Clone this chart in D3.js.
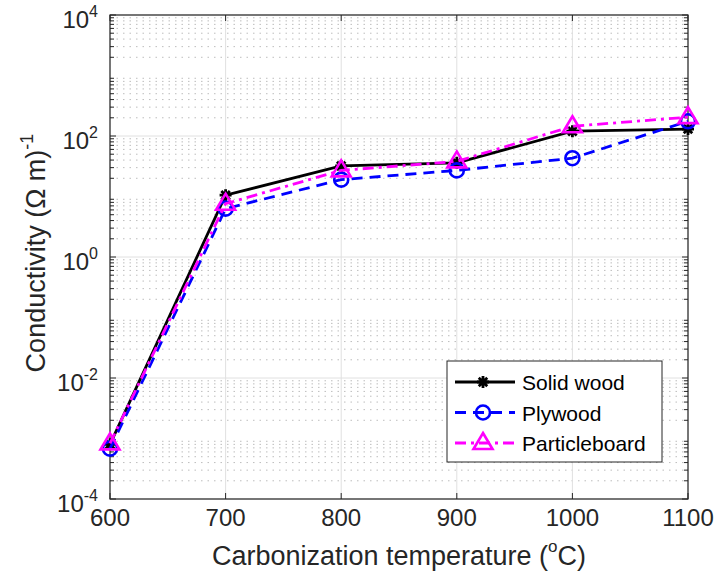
<!DOCTYPE html>
<html>
<head>
<meta charset="utf-8">
<script src="https://cdn.jsdelivr.net/npm/d3@7"></script>
<style>
  html, body { margin: 0; padding: 0; background: #fff; }
  svg { display: block; font-family: "Liberation Sans", Arial, sans-serif; }
</style>
</head>
<body>
<svg id="chart" width="718" height="580"></svg>
<script>
// Carbonization temperature (°C)
const temperatures = [600, 700, 800, 900, 1000, 1100];
// Conductivity (Ω m)^-1 per material
const solidWood     = [8.0e-4, 10.5, 32, 36, 120, 130];
const plywood       = [6.8e-4, 6.3, 19, 27, 43, 175];
const particleboard = [8.3e-4, 7.6, 27, 38, 145, 205];
const xTicks = [600, 700, 800, 900, 1000, 1100];
const yTickExponents = [-4, -2, 0, 2, 4];

const seriesList = [
  { name: "Solid wood",    values: solidWood,     color: "#000000", dash: null,         marker: "star" },
  { name: "Plywood",       values: plywood,       color: "#0000ff", dash: "11,7",       marker: "circle" },
  { name: "Particleboard", values: particleboard, color: "#ff00ff", dash: "11,5,3,5",   marker: "triangle" }
];

const svg = d3.select("#chart");
const m = { left: 110, right: 30, top: 15, bottom: 81 };
const W = 718, H = 580;
const x = d3.scaleLinear().domain([600, 1100]).range([m.left, W - m.right]);
const y = d3.scaleLog().domain([1e-4, 1e4]).range([H - m.bottom, m.top]);

const grid = svg.append("g");
// minor horizontal grid (dotted)
const minorVals = [];
for (let e = -4; e < 4; e++) for (let k = 2; k <= 9; k++) minorVals.push(k * Math.pow(10, e));
grid.selectAll("line.minor").data(minorVals).join("line")
  .attr("x1", m.left).attr("x2", W - m.right)
  .attr("y1", d => y(d)).attr("y2", d => y(d))
  .attr("stroke", "#bdbdbd").attr("stroke-width", 1).attr("stroke-dasharray", "1.5,5");
// major grid
grid.selectAll("line.hmaj").data(yTickExponents.map(e => Math.pow(10, e))).join("line")
  .attr("x1", m.left).attr("x2", W - m.right)
  .attr("y1", d => y(d)).attr("y2", d => y(d))
  .attr("stroke", "#e0e0e0").attr("stroke-width", 1);
grid.selectAll("line.vmaj").data(xTicks).join("line")
  .attr("y1", m.top).attr("y2", H - m.bottom)
  .attr("x1", d => x(d)).attr("x2", d => x(d))
  .attr("stroke", "#e0e0e0").attr("stroke-width", 1);

// axes with ticks on all four sides
const majorY = yTickExponents.map(e => Math.pow(10, e));
function yTicks(g, dir) {
  g.selectAll("line.mi").data(minorVals).join("line")
    .attr("x1", 0).attr("x2", dir * 4).attr("y1", d => y(d)).attr("y2", d => y(d))
    .attr("stroke", "#262626").attr("stroke-width", 1);
  g.selectAll("line.ma").data(majorY).join("line")
    .attr("x1", 0).attr("x2", dir * 6).attr("y1", d => y(d)).attr("y2", d => y(d))
    .attr("stroke", "#262626").attr("stroke-width", 1);
}
yTicks(svg.append("g").attr("transform", `translate(${m.left},0)`), 1);
yTicks(svg.append("g").attr("transform", `translate(${W - m.right},0)`), -1);
function xTk(g, dir) {
  g.selectAll("line").data(xTicks).join("line")
    .attr("y1", 0).attr("y2", dir * 6).attr("x1", d => x(d)).attr("x2", d => x(d))
    .attr("stroke", "#262626").attr("stroke-width", 1);
}
xTk(svg.append("g").attr("transform", `translate(0,${H - m.bottom})`), -1);
xTk(svg.append("g").attr("transform", `translate(0,${m.top})`), 1);

svg.append("rect").attr("x", m.left).attr("y", m.top)
  .attr("width", W - m.left - m.right).attr("height", H - m.top - m.bottom)
  .attr("fill", "none").attr("stroke", "#262626").attr("stroke-width", 1.2);

// tick labels
svg.append("g").selectAll("text").data(xTicks).join("text")
  .attr("x", d => x(d)).attr("y", H - m.bottom + 27)
  .attr("text-anchor", "middle").attr("font-size", 24).attr("fill", "#262626")
  .text(d => d);
const yl = svg.append("g").selectAll("text").data(yTickExponents).join("text")
  .attr("x", m.left - 12).attr("y", d => y(Math.pow(10, d)) + 13)
  .attr("text-anchor", "end").attr("font-size", 24).attr("fill", "#262626");
yl.append("tspan").text("10");
yl.append("tspan").attr("dy", -11).attr("font-size", 16).text(d => d);

// axis titles
const xt = svg.append("text").attr("x", (m.left + W - m.right) / 2).attr("y", H - 15)
  .attr("text-anchor", "middle").attr("font-size", 27).attr("fill", "#262626");
xt.append("tspan").text("Carbonization temperature (");
xt.append("tspan").attr("dy", -13).attr("font-size", 17).text("o");
xt.append("tspan").attr("dy", 13).text("C)");

const ytl = svg.append("text")
  .attr("transform", `translate(45,${(m.top + H - m.bottom) / 2 - 4}) rotate(-90)`)
  .attr("text-anchor", "middle").attr("font-size", 27).attr("fill", "#262626");
ytl.append("tspan").text("Conductivity (Ω m)");
ytl.append("tspan").attr("dy", -12).attr("font-size", 18).text("-1");

// series
const line = d3.line().x(d => x(d.t)).y(d => y(d.v));
const starPath = (s) => {
  let p = "";
  for (let i = 0; i < 4; i++) {
    const a = i * Math.PI / 4;
    p += `M${-s * Math.cos(a)},${-s * Math.sin(a)}L${s * Math.cos(a)},${s * Math.sin(a)}`;
  }
  return p;
};
function drawMarker(g, type, color, cx, cy) {
  if (type === "star") {
    g.append("path").attr("d", starPath(6)).attr("transform", `translate(${cx},${cy})`)
      .attr("stroke", color).attr("stroke-width", 2.8).attr("fill", "none");
  } else if (type === "circle") {
    g.append("circle").attr("cx", cx).attr("cy", cy).attr("r", 7)
      .attr("stroke", color).attr("stroke-width", 2.6).attr("fill", "none");
  } else {
    const s = 10;
    g.append("path")
      .attr("d", `M0,${-s}L${s * 0.95},${s * 0.6}L${-s * 0.95},${s * 0.6}Z`)
      .attr("transform", `translate(${cx},${cy})`)
      .attr("stroke", color).attr("stroke-width", 2.6).attr("fill", "none");
  }
}
const plot = svg.append("g");
seriesList.forEach(s => {
  const pts = temperatures.map((t, i) => ({ t, v: s.values[i] }));
  plot.append("path").datum(pts).attr("d", line)
    .attr("fill", "none").attr("stroke", s.color).attr("stroke-width", 2.8)
    .attr("stroke-dasharray", s.dash);
  pts.forEach(p => drawMarker(plot, s.marker, s.color, x(p.t), y(p.v)));
});

// legend
const lg = svg.append("g");
const lx = 447, ly = 361, lw = 215, lh = 101;
lg.append("rect").attr("x", lx).attr("y", ly).attr("width", lw).attr("height", lh)
  .attr("fill", "#fff").attr("stroke", "#262626").attr("stroke-width", 1);
seriesList.forEach((s, i) => {
  const cy = ly + 21 + i * 30.5;
  lg.append("line").attr("x1", lx + 8).attr("x2", lx + 68).attr("y1", cy).attr("y2", cy)
    .attr("stroke", s.color).attr("stroke-width", 2.8).attr("stroke-dasharray", s.dash);
  drawMarker(lg, s.marker, s.color, lx + 36, cy);
  lg.append("text").attr("x", lx + 75).attr("y", cy + 8).attr("font-size", 21)
    .attr("fill", "#000").text(s.name);
});
</script>
</body>
</html>
